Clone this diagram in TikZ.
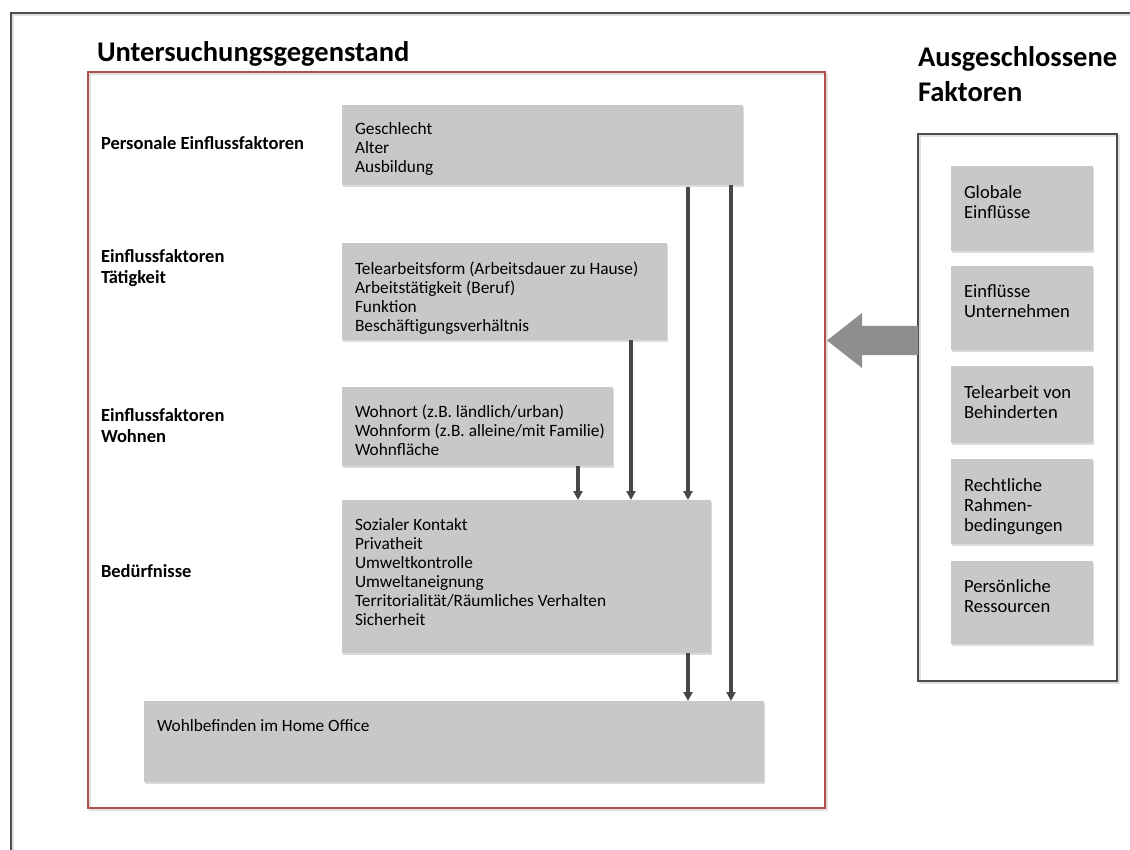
\documentclass[tikz,border=0pt]{standalone}
\usepackage{fontspec}
\setmainfont{Carlito}
\usetikzlibrary{arrows.meta,shadows}
\definecolor{boxgray}{HTML}{C8C8C8}
\definecolor{framered}{HTML}{B0504D}
\definecolor{arrowgray}{HTML}{474747}
\definecolor{bigarrow}{HTML}{8E8E8E}
\definecolor{framegray}{HTML}{4D4D4D}
\begin{document}
\begin{tikzpicture}[x=1pt,y=-1pt,
  every node/.style={inner sep=0pt, outer sep=0pt},
  graybox/.style={fill=boxgray, draw=none,
    drop shadow={opacity=0.28, shadow xshift=0.5pt, shadow yshift=-2pt}},
  framesoft/.style={draw=black, opacity=0.12, line width=2pt},
  itemtext/.style={anchor=base west, align=left, font=\fontsize{17.3}{19}\selectfont},
  sidetext/.style={anchor=base west, align=left, font=\fontsize{18.6}{20}\selectfont},
  rowlabel/.style={anchor=base west, align=left, font=\fontsize{18.5}{21}\selectfont\bfseries},
  heading/.style={anchor=base west, align=left, font=\fontsize{28.5}{35}\selectfont\bfseries},
  flow/.style={draw=arrowgray, line width=3.2pt, -{Triangle[length=9pt,width=9pt]}}]
\useasboundingbox (0,0) rectangle (1130,850);
\fill[white] (0,0) rectangle (1130,850);

% page frame with a soft edge
\draw[framesoft] (13,850) -- (13,15) -- (1130,15);
\draw[framegray, line width=1.4pt] (11,850) -- (11,13) -- (1130,13);

% headings (multi-line nodes sit on the baseline of their last line)
\node[heading] (hUnt) at (97,62) {Untersuchungsgegenstand};
\node[heading] (hAus) at (918,102) {Ausgeschlossene\\Faktoren};

% frame of the study
\draw[framesoft] (89.5,74) rectangle (826.5,810);
\draw[framered, line width=1.8pt] (88,72) rectangle (825,808);

% factor boxes
\path[graybox] (342,105) rectangle (743,185);
\path[graybox] (342,243) rectangle (667,340);
\path[graybox] (342,387) rectangle (613,466);
\path[graybox] (342,500) rectangle (711,653);
\path[graybox] (144,701) rectangle (764,782);

\node (p1) at (542.5,145) [minimum width=401pt, minimum height=80pt] {};
\node (p2) at (504.5,291.5) [minimum width=325pt, minimum height=97pt] {};
\node (p3) at (477.5,426.5) [minimum width=271pt, minimum height=79pt] {};
\node (need) at (526.5,576.5) [minimum width=369pt, minimum height=153pt] {};
\node (well) at (454,741.5) [minimum width=620pt, minimum height=81pt] {};

% box texts
\node[itemtext] (t1) at (355,173) {Geschlecht\\Alter\\Ausbildung};
\node[itemtext] (t2) at (355,332) {Telearbeitsform (Arbeitsdauer zu Hause)\\Arbeitst\"atigkeit (Beruf)\\Funktion\\Besch\"aftigungsverh\"altnis};
\node[itemtext] (t3) at (355,455) {Wohnort (z.B. l\"andlich/urban)\\Wohnform (z.B. alleine/mit Familie)\\Wohnfl\"ache};
\node[itemtext] (t4) at (355,625) {Sozialer Kontakt\\Privatheit\\Umweltkontrolle\\Umweltaneignung\\Territorialit\"at/R\"aumliches Verhalten\\Sicherheit};
\node[itemtext] (t5) at (157,731) {Wohlbefinden im Home Office};

% row labels
\node[rowlabel] (l1) at (101,150) {Personale Einflussfaktoren};
\node[rowlabel] (l2) at (101,284) {Einflussfaktoren\\T\"atigkeit};
\node[rowlabel] (l3) at (101,442) {Einflussfaktoren\\Wohnen};
\node[rowlabel] (l4) at (101,577) {Bed\"urfnisse};

% connector columns
\coordinate (xa) at (578,0);
\coordinate (xb) at (631,0);
\coordinate (xc) at (688,0);
\coordinate (xd) at (731,0);

\draw[flow] (p3.south -| xa) -- (need.north -| xa);
\draw[flow] (p2.south -| xb) -- (need.north -| xb);
\draw[flow] ([yshift=-2pt]p1.south -| xc) -- (need.north -| xc);
\draw[flow] (p1.south -| xd) -- (well.north -| xd);
\draw[flow] (need.south -| xc) -- (well.north -| xc);

% excluded factors
\draw[framesoft] (919.5,136) rectangle (1118.5,683);
\draw[framegray, line width=1.6pt] (918,134) rectangle (1117,681);
\node (excl) at (1017.5,407.5) [minimum width=199pt, minimum height=547pt] {};

\path[graybox] (951,166) rectangle (1093,251);
\path[graybox] (951,266) rectangle (1093,350);
\path[graybox] (951,366) rectangle (1093,443);
\path[graybox] (951,459) rectangle (1093,544);
\path[graybox] (951,561) rectangle (1093,644);

\node[sidetext] (e1) at (964,219) {Globale\\Einfl\"usse};
\node[sidetext] (e2) at (964,318) {Einfl\"usse\\Unternehmen};
\node[sidetext] (e3) at (964,418) {Telearbeit von\\Behinderten};
\node[sidetext] (e4) at (964,531) {Rechtliche\\Rahmen-\\bedingungen};
\node[sidetext] (e5) at (964,612) {Pers\"onliche\\Ressourcen};

% broad arrow from the excluded factors to the study frame
\fill[bigarrow] (excl.west |- 0,326) -- (862,326) -- (862,313) -- (827,340.5)
  -- (862,368) -- (862,355) -- (excl.west |- 0,355) -- cycle;
\end{tikzpicture}
\end{document}
